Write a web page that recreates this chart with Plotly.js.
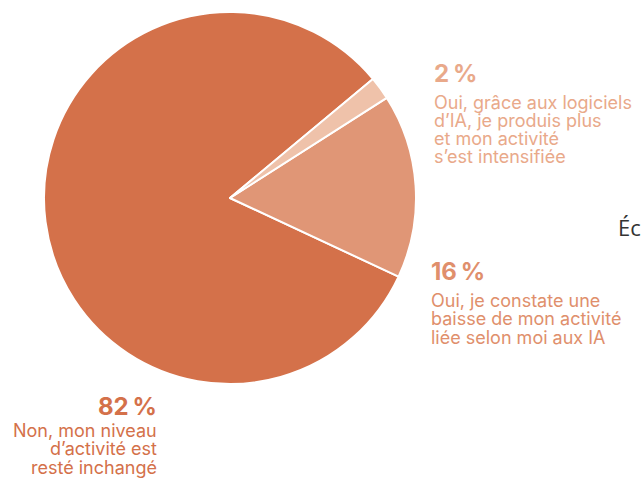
<!DOCTYPE html>
<html>
<head>
<meta charset="utf-8">
<script src="https://cdn.plot.ly/plotly-3.0.1.min.js"></script>
<style>html,body{margin:0;padding:0;background:#fff;}#chart{width:642px;height:484px;}</style>
</head>
<body>
<div id="chart"></div>
<script>
var labels = ["Non, mon niveau d’activité est resté inchangé", "Oui, je constate une baisse de mon activité liée selon moi aux IA", "Oui, grâce aux logiciels d’IA, je produis plus et mon activité s’est intensifiée"];
var values = [82, 16, 2];
var pctLabels = ["82\u2009%", "16\u2009%", "2\u2009%"];
var labelLines = [
  ["Non, mon niveau", "d’activité est", "resté inchangé"],
  ["Oui, je constate une", "baisse de mon activité", "liée selon moi aux IA"],
  ["Oui, grâce aux logiciels", "d’IA, je produis plus", "et mon activité", "s’est intensifiée"]
];
var colors = ["#D4714A", "#E09676", "#EFC2AA"];
var textColors = ["#D4714A", "#E08F6C", "#E9A98A"];

var W = 642, H = 484;
function px(x){return x / W;}
function py(y){return 1 - y / H;}

var trace = {
  type: "pie",
  values: values,
  labels: labels,
  sort: false,
  direction: "counterclockwise",
  rotation: 115,
  textinfo: "none",
  hoverinfo: "none",
  showlegend: false,
  marker: {colors: colors, line: {color: "#ffffff", width: 2}},
  domain: {x: [px(44), px(416)], y: [py(384), py(12)]}
};

// label block positions (baselines in px)
var pos = [
  {x: 159, pctBase: 415, firstBase: 436.7, step: 18.3, anchor: "right"},
  {x: 429, pctBase: 280, firstBase: 306.7, step: 18.3, anchor: "left"},
  {x: 432, pctBase: 81.7, firstBase: 109, step: 18, anchor: "left"}
];
var pctSize = 24, labSize = 18;

var annotations = [];
for (var i = 0; i < values.length; i++) {
  annotations.push({
    xref: "paper", yref: "paper", x: px(pos[i].x), y: py(pos[i].pctBase - 0.35 * pctSize),
    xanchor: pos[i].anchor, yanchor: "middle", align: pos[i].anchor,
    text: pctLabels[i], showarrow: false,
    font: {family: "Inter", size: pctSize, weight: 700, color: textColors[i]}
  });
  for (var j = 0; j < labelLines[i].length; j++) {
    annotations.push({
      xref: "paper", yref: "paper", x: px(pos[i].x),
      y: py(pos[i].firstBase + j * pos[i].step - 0.35 * labSize),
      xanchor: pos[i].anchor, yanchor: "middle", align: pos[i].anchor,
      text: labelLines[i][j], showarrow: false,
      font: {family: "Inter", size: labSize, color: textColors[i]}
    });
  }
}
annotations.push({
  xref: "paper", yref: "paper", x: px(616), y: py(235 - 0.35 * 22),
  xanchor: "left", yanchor: "middle", text: "Éc", showarrow: false,
  font: {family: "Open Sans", size: 22, color: "#333333"}
});

var layout = {
  width: W, height: H,
  margin: {l: 0, r: 0, t: 0, b: 0},
  paper_bgcolor: "#ffffff",
  annotations: annotations
};
Plotly.newPlot("chart", [trace], layout, {displayModeBar: false, staticPlot: true});
</script>
</body>
</html>
